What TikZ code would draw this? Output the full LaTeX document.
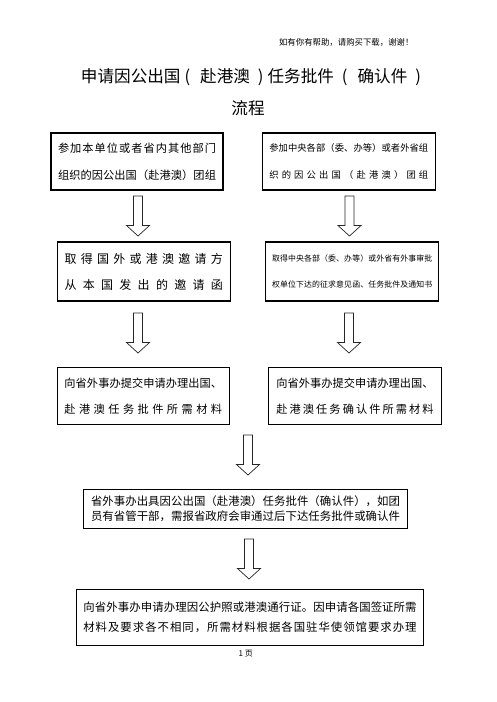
\documentclass[tikz,border=0pt]{standalone}
\usepackage{fontspec}
\setmainfont{Noto Sans CJK SC}
\def\jlfirst#1{#1\jlnext}
\def\jlnext#1{\ifx#1\relax\else\hfill#1\expandafter\jlnext\fi}
\newcommand\jline[2]{\hbox to #1{\jlfirst#2\relax}}
\tikzset{
  box/.style={draw=black, line width=1.1pt, inner sep=0pt, align=center, text=black},
  arrowline/.style={draw=black!85, line width=0.7pt, line join=miter},
  blockarrow/.pic={\draw[arrowline] (-4.5,0) -- (-4.5,29.5) -- (-11.5,29.5) -- (0,40) -- (11.5,29.5) -- (4.5,29.5) -- (4.5,0) -- cycle;}
}
\begin{document}
\begin{tikzpicture}[x=1pt,y=-1pt]
\fill[white] (0,0) rectangle (496,702);
\useasboundingbox (0,0) rectangle (496,702);

\node[anchor=east, font=\fontsize{8.4}{10}\selectfont] (hdr) at (417,42) {如有你有帮助，请购买下载，谢谢！};
\node[font=\fontsize{16.6}{20}\selectfont] (title1) at (251,77.3)
  {申请因公出国\hspace{4pt}(\hspace{10pt}赴港澳\hspace{8pt})\hspace{4pt}任务批件\hspace{8pt}(\hspace{10pt}确认件\hspace{8pt})};
\node[font=\fontsize{16.6}{20}\selectfont] (title2) at (248,108) {流程};

\node[box, minimum width=172pt, minimum height=57pt, font=\fontsize{11.2}{26.7}\selectfont] (b1) at (137,161.5)
  {\jline{158pt}{参加本单位或者省内其他部门}\\\jline{158pt}{组织的因公出国（赴港澳）团组}};
\node[box, minimum width=173pt, minimum height=57pt, font=\fontsize{9.3}{26.7}\selectfont] (b2) at (348.8,161.5)
  {\jline{159pt}{参加中央各部（委、办等）或者外省组}\\\jline{159pt}{织的因公出国（赴港澳）团组}};
\node[box, minimum width=172.7pt, minimum height=59pt, font=\fontsize{12}{26}\selectfont] (b3) at (143.7,271.5)
  {\jline{158.4pt}{取得国外或港澳邀请方}\\\jline{158.4pt}{从本国发出的邀请函}};
\node[box, minimum width=173pt, minimum height=59pt, font=\fontsize{7.9}{26}\selectfont] (b4) at (352.2,271.5)
  {\jline{160pt}{取得中央各部（委、办等）或外省有外事审批}\\\jline{160pt}{权单位下达的征求意见函、任务批件及通知书}};
\node[box, minimum width=172pt, minimum height=56.6pt, font=\fontsize{11.2}{25.7}\selectfont] (b5) at (143.3,396)
  {\jline{157.7pt}{向省外事办提交申请办理出国、}\\\jline{157.7pt}{赴港澳任务批件所需材料}};
\node[box, minimum width=173.4pt, minimum height=56.6pt, font=\fontsize{11.2}{25.7}\selectfont] (b6) at (355,396)
  {\jline{157.3pt}{向省外事办提交申请办理出国、}\\\jline{157.3pt}{赴港澳任务确认件所需材料}};
\node[box, minimum width=324.4pt, minimum height=39.3pt, font=\fontsize{11.4}{15}\selectfont] (b7) at (245.5,508.7)
  {\jline{309pt}{省外事办出具因公出国（赴港澳）任务批件（确认件），如团}\\\jline{309pt}{员有省管干部，需报省政府会审通过后下达任务批件或确认件}};
\node[box, minimum width=346.6pt, minimum height=55.7pt, font=\fontsize{11.4}{19.4}\selectfont] (b8) at (250,617.2)
  {\jline{333.3pt}{向省外事办申请办理因公护照或港澳通行证。因申请各国签证所需}\\\jline{333.3pt}{材料及要求各不相同，所需材料根据各国驻华使领馆要求办理}};

\node[font=\fontsize{8}{10}\selectfont] (page) at (245.7,653.3) {1 页};

\pic at (138,196) {blockarrow};
\pic at (349.5,196) {blockarrow};
\pic at (138,313) {blockarrow};
\pic at (349,313) {blockarrow};
\pic at (248,435) {blockarrow};
\pic at (249,539) {blockarrow};
\end{tikzpicture}
\end{document}
